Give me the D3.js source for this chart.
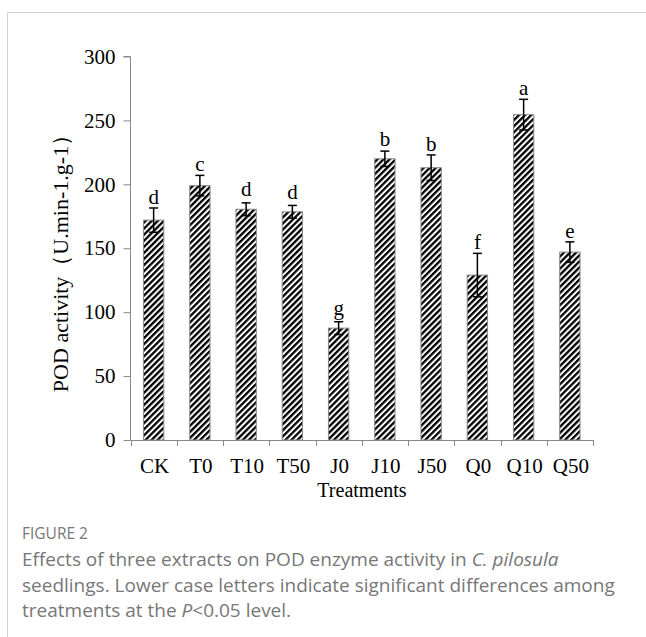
<!DOCTYPE html>
<html>
<head>
<meta charset="utf-8">
<script src="https://cdn.jsdelivr.net/npm/d3@7"></script>
<style>
  html, body { margin: 0; padding: 0; background: #fff; }
  svg { display: block; }
</style>
</head>
<body>
<script>
const categories = ["CK", "T0", "T10", "T50", "J0", "J10", "J50", "Q0", "Q10", "Q50"];
const values = [172, 199, 180.5, 178.5, 87.5, 220, 213, 129, 254.5, 147];
const errors = [9.5, 8, 5, 5, 5, 6, 10, 17, 12, 8];
const letters = ["d", "c", "d", "d", "g", "b", "b", "f", "a", "e"];
const yTicks = [0, 50, 100, 150, 200, 250, 300];

const W = 646, H = 637;
const svg = d3.select("body").append("svg").attr("width", W).attr("height", H);

// card border
svg.append("path").attr("d", `M7.5,${H} V12.5 H${W}`).attr("fill", "none").attr("stroke", "#d0d0d0").attr("stroke-width", 1);

const defs = svg.append("defs");
const pat = defs.append("pattern").attr("id", "hatch")
  .attr("patternUnits", "userSpaceOnUse").attr("width", 4.3).attr("height", 4.3)
  .attr("patternTransform", "rotate(45)");
pat.append("rect").attr("width", 4.3).attr("height", 4.3).attr("fill", "#fff");
pat.append("rect").attr("width", 2.3).attr("height", 4.3).attr("fill", "#000");

const x = d3.scaleBand().domain(categories).range([130.5, 593]).paddingInner(0.56).paddingOuter(0.28);
const xb = d3.scaleBand().domain(categories).range([130.5, 593]);
const y = d3.scaleLinear().domain([0, 300]).range([440, 56.5]);

const serif = "'Liberation Serif', 'Times New Roman', serif";
const axisColor = "#898989";

// y axis
const yAxis = svg.append("g").attr("transform", "translate(130.5,0)")
  .call(d3.axisLeft(y).tickValues(yTicks).tickSize(7).tickPadding(8));
yAxis.select(".domain").attr("stroke", axisColor).attr("d", `M-7,${y(300)}H0V${y(0)}`);
yAxis.selectAll(".tick line").attr("stroke", axisColor);
yAxis.selectAll(".tick text").attr("font-family", serif).attr("font-size", 21).attr("fill", "#000");

// x axis baseline with boundary ticks
const xg = svg.append("g");
xg.append("line").attr("x1", 130.5).attr("x2", 593).attr("y1", y(0) + 0.5).attr("y2", y(0) + 0.5).attr("stroke", axisColor);
const bounds = categories.map(c => xb(c)).concat([xb(categories[categories.length - 1]) + xb.bandwidth()]);
xg.selectAll("line.bt").data(bounds).enter().append("line").attr("class", "bt")
  .attr("x1", d => Math.round(d) + 0.5).attr("x2", d => Math.round(d) + 0.5)
  .attr("y1", y(0)).attr("y2", y(0) + 6).attr("stroke", axisColor);
xg.selectAll("text.cat").data(categories).enter().append("text").attr("class", "cat")
  .attr("x", d => xb(d) + xb.bandwidth() / 2 + 1).attr("y", 473)
  .attr("text-anchor", "middle").attr("font-family", serif).attr("font-size", 21).text(d => d);

// bars
svg.selectAll("rect.bar").data(categories).enter().append("rect").attr("class", "bar")
  .attr("x", d => x(d)).attr("width", x.bandwidth())
  .attr("y", (d, i) => y(values[i])).attr("height", (d, i) => y(0) - y(values[i]))
  .attr("fill", "url(#hatch)").attr("stroke", "#8a8a8a").attr("stroke-width", 1);

// error bars
const eg = svg.append("g").attr("stroke", "#000").attr("stroke-width", 1.5);
categories.forEach((c, i) => {
  const cx = x(c) + x.bandwidth() / 2;
  const t = y(values[i] + errors[i]), b = y(values[i] - errors[i]);
  eg.append("line").attr("x1", cx).attr("x2", cx).attr("y1", t).attr("y2", b);
  eg.append("line").attr("x1", cx - 4.5).attr("x2", cx + 4.5).attr("y1", t).attr("y2", t);
  eg.append("line").attr("x1", cx - 4.5).attr("x2", cx + 4.5).attr("y1", b).attr("y2", b);
});

// significance letters
svg.selectAll("text.sig").data(categories).enter().append("text").attr("class", "sig")
  .attr("x", d => x(d) + x.bandwidth() / 2)
  .attr("y", (d, i) => Math.min(y(values[i]) - 13, y(values[i] + errors[i]) - 4))
  .attr("text-anchor", "middle").attr("font-family", serif).attr("font-size", 21).text((d, i) => letters[i]);

// axis titles
svg.append("text").attr("x", 362).attr("y", 497).attr("text-anchor", "middle")
  .attr("font-family", serif).attr("font-size", 20).text("Treatments");
svg.append("text").attr("transform", "translate(68,258) rotate(-90)").attr("text-anchor", "middle")
  .attr("font-family", serif).attr("font-size", 22).text("POD activity（U.min-1.g-1）");

// caption
const sans = "'Open Sans', 'Noto Sans', sans-serif";
svg.append("text").attr("x", 22).attr("y", 539).attr("font-family", sans).attr("font-size", 15.5)
  .attr("fill", "#777").text("FIGURE 2");
const cap = [
  [["Effects of three extracts on POD enzyme activity in ", false], ["C. pilosula", true]],
  [["seedlings. Lower case letters indicate significant differences among", false]],
  [["treatments at the ", false], ["P", true], ["<0.05 level.", false]]
];
cap.forEach((line, k) => {
  const t = svg.append("text").attr("x", 22).attr("y", 566 + k * 25.5).attr("font-family", sans)
    .attr("font-size", 19).attr("fill", "#777");
  line.forEach(([s, it]) => t.append("tspan").attr("font-style", it ? "italic" : "normal").text(s));
});
</script>
</body>
</html>
